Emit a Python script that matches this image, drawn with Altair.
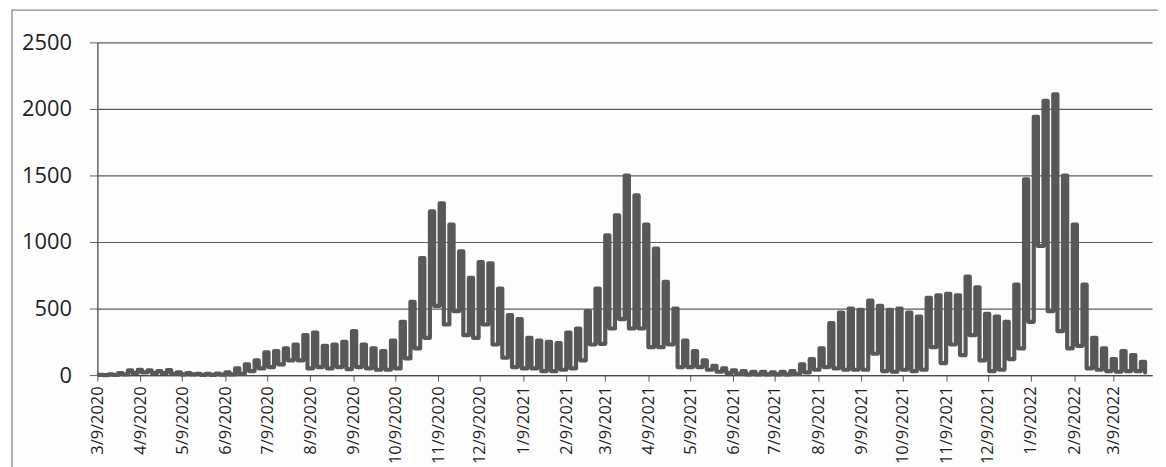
import altair as alt
import pandas as pd

# first Monday of the series; one "high" and one "low" reading per week
series_start = "2020-03-09"

weekly_high = [
    # 3/9/2020 - 6/1/2020
    2, 5, 15, 35, 40, 35, 30, 38, 20, 15, 10, 10, 12, 20,
    # 6/8/2020 - 10/12/2020
    50, 80, 110, 170, 180, 200, 230, 300, 320, 220, 230, 250, 330, 230, 200, 180, 260, 400,
    # 10/19/2020 - 1/25/2021
    550, 880, 1230, 1290, 1130, 930, 730, 850, 840, 650, 450, 420, 280, 260, 250, 240,
    # 2/1/2021 - 7/19/2021
    320, 350, 480, 650, 1050, 1200, 1500, 1350, 1130, 950, 700, 500, 260, 180, 110, 70,
    50, 35, 30, 25, 25, 20, 25, 30, 80,
    # 7/26/2021 - 3/28/2022
    120, 200, 390, 470, 500, 490, 560, 520, 490, 500, 470, 440, 580, 600, 610, 600, 740,
    660, 460, 440, 400, 680, 1470, 1940, 2060, 2110, 1500, 1130, 680, 280, 200, 120, 180,
    150, 100,
]

weekly_low = [
    0, 1, 5, 15, 20, 15, 15, 10, 5, 5, 2, 2, 3, 5,
    10, 30, 50, 60, 80, 110, 110, 50, 60, 50, 60, 45, 60, 50, 40, 40, 50, 125,
    200, 280, 520, 380, 480, 300, 280, 380, 230, 130, 60, 50, 50, 30, 30, 40,
    50, 110, 230, 235, 350, 420, 350, 350, 210, 210, 230, 60, 60, 60, 40, 25,
    15, 10, 5, 5, 5, 5, 5, 8, 20,
    40, 60, 50, 40, 40, 40, 160, 30, 25, 40, 30, 40, 210, 90, 230, 150, 300,
    110, 30, 40, 120, 200, 400, 970, 480, 330, 200, 220, 50, 40, 30, 25, 30,
    30, 20,
]

tick_months = [
    (2020, 3), (2020, 4), (2020, 5), (2020, 6), (2020, 7), (2020, 8), (2020, 9),
    (2020, 10), (2020, 11), (2020, 12), (2021, 1), (2021, 2), (2021, 3), (2021, 4),
    (2021, 5), (2021, 6), (2021, 7), (2021, 8), (2021, 9), (2021, 10), (2021, 11),
    (2021, 12), (2022, 1), (2022, 2), (2022, 3),
]
y_ticks = [0, 500, 1000, 1500, 2000, 2500]

rows = []
t0 = pd.Timestamp(series_start)
for i, (hi, lo) in enumerate(zip(weekly_high, weekly_low)):
    wk = t0 + pd.Timedelta(days=7 * i)
    rows.append({"date": wk + pd.Timedelta(days=1), "cases": hi})
    rows.append({"date": wk + pd.Timedelta(days=4), "cases": lo})
df = pd.DataFrame(rows)

FONT = "Open Sans"

line = alt.Chart(df).mark_line(
    color="#585858", strokeWidth=4.2, strokeJoin="round", strokeCap="round",
    interpolate="step-after",
).encode(
    x=alt.X(
        "date:T",
        title=None,
        scale=alt.Scale(
            domain=[alt.DateTime(year=2020, month=3, date=9),
                    alt.DateTime(year=2022, month=4, date=6)],
            nice=False,
        ),
        axis=alt.Axis(
            values=[alt.DateTime(year=y, month=m, date=9) for (y, m) in tick_months],
            format="%-m/%-d/%Y",
            labelAngle=270,
            labelFontSize=16.5,
            labelPadding=5,
            labelColor="#1e1e1e",
            labelFont=FONT,
            tickSize=6,
            tickColor="#555555",
            domainColor="#4a4a4a",
            domainWidth=1.3,
            grid=False,
            labelOverlap=False,
        ),
    ),
    y=alt.Y(
        "cases:Q",
        title=None,
        scale=alt.Scale(domain=[0, 2500], nice=False),
        axis=alt.Axis(
            values=y_ticks,
            format="d",
            labelFontSize=22,
            labelPadding=18,
            labelColor="#1e1e1e",
            labelFont=FONT,
            tickSize=8,
            tickColor="#606060",
            domainColor="#4a4a4a",
            domainWidth=1.3,
            grid=True,
            gridColor="#5c5c5c",
            gridWidth=1.2,
        ),
    ),
)

frame = alt.Chart(pd.DataFrame({"k": [0]})).mark_rect(
    fillOpacity=0, stroke="#8a8a8a", strokeWidth=1.3
).encode(
    x=alt.value(-86), x2=alt.value(1200), y=alt.value(-32.5), y2=alt.value(600)
)

chart = alt.layer(frame, line).properties(
    width=1062,
    height=335,
    autosize=alt.AutoSizeParams(type="none"),
    padding={"left": 90, "top": 33, "right": 6, "bottom": 100},
    background="#fdfdfd",
).configure_view(strokeWidth=0)

chart.save("out.html", embed_options={"renderer": "svg", "actions": False})
